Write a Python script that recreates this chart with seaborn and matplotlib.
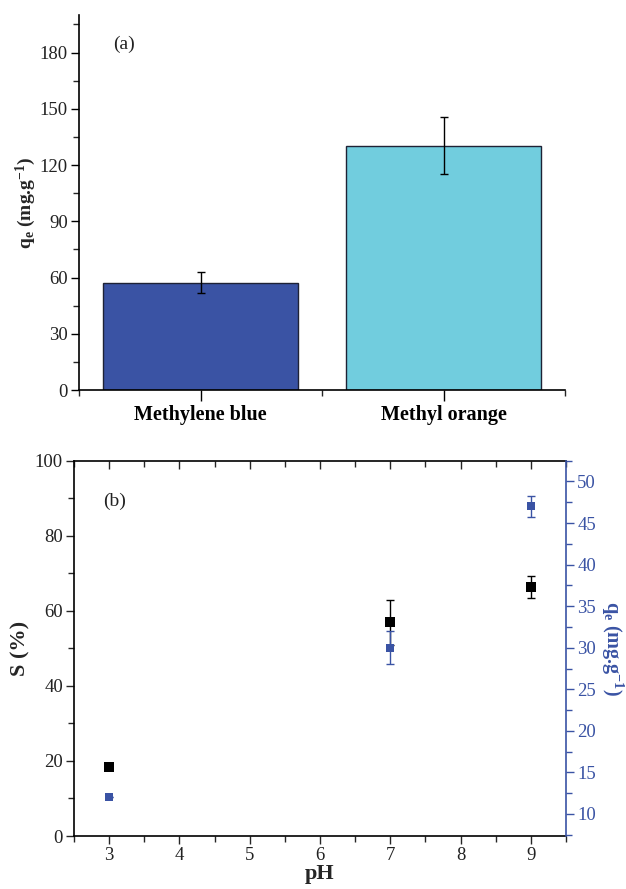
import numpy as np
import pandas as pd
import matplotlib
matplotlib.use("Agg")
import matplotlib.pyplot as plt
import seaborn as sns
from matplotlib.ticker import MultipleLocator, FixedLocator

# ---- data ----
dyes = ["Methylene blue", "Methyl orange"]
qe_dye = [57.2, 130.3]
qe_dye_err = [5.7, 15.2]
bar_colors = ["#3A53A4", "#71CDDE"]

ph = [3, 7, 9]
s_pct = [18.5, 56.9, 66.4]
s_err = [0.0, 6.0, 3.0]
qe_ph = [12.0, 30.0, 47.0]
qe_ph_err = [0.0, 2.0, 1.3]

sns.set_theme(style="ticks")
plt.rcParams["font.family"] = ["Liberation Serif", "DejaVu Serif"]
plt.rcParams["mathtext.fontset"] = "custom"
plt.rcParams["mathtext.rm"] = "Liberation Serif"
plt.rcParams["mathtext.bf"] = "Liberation Serif:bold"
plt.rcParams["mathtext.it"] = "Liberation Serif:italic"
plt.rcParams["mathtext.default"] = "bf"

BLUE = "#3A53A4"
TICK_FS = 13.5
fig = plt.figure(figsize=(6.26, 8.89), dpi=100)

# ---- panel (a) ----
ax1 = fig.add_axes([0.1262, 0.5613, 0.7764, 0.4218])
df1 = pd.DataFrame({"dye": dyes, "qe": qe_dye})
sns.barplot(data=df1, x="dye", y="qe", hue="dye", palette=bar_colors, saturation=1,
            width=0.8, edgecolor="#1e2235", linewidth=1.0, legend=False, ax=ax1)
ax1.errorbar(x=np.arange(len(dyes)), y=qe_dye, yerr=qe_dye_err, fmt="none",
             ecolor="black", elinewidth=1.0, capsize=3, capthick=1.0)
ax1.set_xlim(-0.5, 1.5)
ax1.set_ylim(0, 200)
ax1.yaxis.set_major_locator(FixedLocator([0, 30, 60, 90, 120, 150, 180]))
ax1.yaxis.set_minor_locator(FixedLocator([15, 45, 75, 105, 135, 165, 195]))
ax1.xaxis.set_minor_locator(FixedLocator([-0.5, 0.5, 1.5]))
ax1.tick_params(axis="both", which="major", direction="out", length=6, width=1.0,
                labelsize=TICK_FS, color="black", labelcolor="#222222", pad=2)
ax1.tick_params(axis="both", which="minor", direction="out", length=4, width=1.0)
ax1.tick_params(axis="x", which="major", length=8, labelsize=14.5, pad=3)
for lab in ax1.get_xticklabels():
    lab.set_fontweight("bold")
    lab.set_color("black")
ax1.set_xlabel("")
ax1.set_ylabel(r"q$_\mathbf{e}$ (mg.g$^\mathbf{-1}$)", fontsize=14, fontweight="bold", labelpad=1)
for side in ["top", "right"]:
    ax1.spines[side].set_visible(False)
for side in ["left", "bottom"]:
    ax1.spines[side].set_linewidth(1.2)
    ax1.spines[side].set_color("black")
ax1.text(0.07, 0.91, "(a)", transform=ax1.transAxes, fontsize=14, color="#222222")

# ---- panel (b) ----
ax2 = fig.add_axes([0.1182, 0.0596, 0.7860, 0.4222])
df2 = pd.DataFrame({"pH": ph, "S": s_pct, "qe": qe_ph})
ax2.errorbar(x=ph, y=s_pct, yerr=s_err, fmt="none", ecolor="black",
             elinewidth=1.0, capsize=3, capthick=1.0, zorder=2)
sns.scatterplot(data=df2, x="pH", y="S", marker="s", s=45, color="black",
                edgecolor="black", linewidth=0, ax=ax2, zorder=3)
ax2.set_xlim(2.5, 9.5)
ax2.set_ylim(0, 100)
ax2.xaxis.set_major_locator(MultipleLocator(1))
ax2.xaxis.set_minor_locator(MultipleLocator(0.5))
ax2.yaxis.set_major_locator(MultipleLocator(20))
ax2.yaxis.set_minor_locator(MultipleLocator(10))
ax2.tick_params(axis="both", which="major", direction="out", length=6, width=1.0,
                labelsize=TICK_FS, labelcolor="#222222", top=True, pad=2)
ax2.tick_params(axis="both", which="minor", direction="out", length=4, width=1.0, top=True)
ax2.tick_params(axis="x", which="both", top=True)
ax2.set_xlabel("pH", fontsize=16, fontweight="bold", labelpad=0)
ax2.set_ylabel("S (%)", fontsize=16, fontweight="bold", labelpad=3)
for side in ["top", "bottom", "left"]:
    ax2.spines[side].set_linewidth(1.2)
    ax2.spines[side].set_color("black")
ax2.spines["right"].set_visible(False)
ax2.text(0.06, 0.88, "(b)", transform=ax2.transAxes, fontsize=14, color="#222222")

ax3 = ax2.twinx()
ax3.errorbar(x=ph, y=qe_ph, yerr=qe_ph_err, fmt="none", ecolor=BLUE,
             elinewidth=1.0, capsize=3, capthick=1.0, zorder=2)
sns.scatterplot(data=df2, x="pH", y="qe", marker="s", s=28, color=BLUE,
                edgecolor=BLUE, linewidth=0, ax=ax3, zorder=3)
ax3.set_ylim(7.35, 52.5)
ax3.yaxis.set_major_locator(MultipleLocator(5))
ax3.yaxis.set_minor_locator(MultipleLocator(2.5))
ax3.tick_params(axis="y", which="major", direction="out", length=6, width=1.0,
                labelsize=TICK_FS, color=BLUE, labelcolor=BLUE, pad=2)
ax3.tick_params(axis="y", which="minor", direction="out", length=4, width=1.0, color=BLUE)
ax3.set_ylabel(r"q$_\mathbf{e}$ (mg.g$^\mathbf{-1}$)", fontsize=14.5, fontweight="bold",
               color=BLUE, rotation=270, labelpad=21)
for side in ["top", "bottom", "left"]:
    ax3.spines[side].set_visible(False)
ax3.spines["right"].set_color(BLUE)
ax3.spines["right"].set_linewidth(1.2)

# top x ticks of panel (b) point inward
for t in ax2.xaxis.get_major_ticks() + ax2.xaxis.get_minor_ticks():
    t.tick2line.set_marker(matplotlib.lines.TICKDOWN)

fig.savefig("out.png", dpi=100)
